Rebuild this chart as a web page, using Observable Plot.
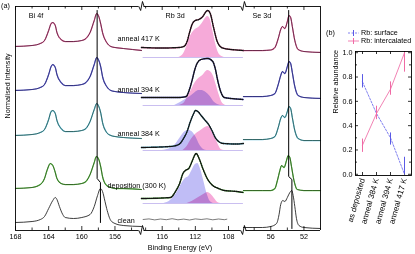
<!DOCTYPE html>
<html><head><meta charset="utf-8">
<script src="https://cdn.jsdelivr.net/npm/d3@7"></script>
<script src="https://cdn.jsdelivr.net/npm/@observablehq/plot@0.6"></script>
<style>
html,body{margin:0;padding:0;background:#fff;}
#wrap{position:relative;width:415px;height:254px;font-family:"Liberation Sans",Arial,Helvetica,sans-serif;font-size:7.2px;color:#000;overflow:hidden;background:#fff}
#wrap svg{position:absolute;top:0;overflow:visible}
.lbl{position:absolute;white-space:nowrap;font-size:7.2px;line-height:1}
</style></head><body><div id="wrap"></div>
<script>
// ---------------- panel (a) data ----------------
const spectra = ["clean", "deposition (300 K)", "anneal 384 K", "anneal 394 K", "anneal 417 K"];
const lineColors = ["#1a1a1a", "#2d561f", "#2c5954", "#2a2a72", "#5a1c3c"];
const dataColors = ["#666666", "#52c43c", "#4fb8d6", "#5252cc", "#de5a92"];

const sections = ["Bi 4f", "Rb 3d", "Se 3d"];
const sectionStart = [168, 118.5, 59.3];
const sectionEnd = [152.8, 106.2, 50.0];
const sectionTitleEV = [166.4, 115.6, 58.2];
const majorTicks = [[168, 164, 160, 156], [116, 112, 108], [56, 52]];
const minorTicks = [[166, 162, 158, 154], [118, 114, 110], [58, 54]];

// Bi 4f (eV, intensity above background)
const biOffsets = [4, 41, 92, 137, 180];
const biClean = [[168,4],[166,5],[165,7],[164.5,10],[164,18],[163.5,26],[163.2,29],[163,27],[162.7,20],[162.3,12],[162,9],[161,8],[160,9],[159,12],[158.5,20],[158.1,31],[157.75,38],[157.5,35],[157.2,25],[157,18],[156.5,6],[156,3],[155,1],[152.8,0]];
const biDeposition = [[168,1],[166,2],[165,5],[164.5,11],[164.2,19],[163.8,26],[163.5,24],[163.2,17],[163,11],[162.5,6],[162,5],[161,5],[160,6],[159.5,8],[159,15],[158.5,27],[158.25,33],[158,31],[157.7,22],[157.5,13],[157,4],[156.5,2],[156,1],[155,1],[152.8,0]];
const bi384 = [[168,3],[166,4],[165,6],[164.5,9],[164,19],[163.7,27],[163.5,28],[163.2,25],[163,18],[162.5,10],[162,7],[161,7],[160,8],[159.5,10],[159,17],[158.5,29],[158.2,35],[158,33],[157.7,25],[157.5,16],[157,6],[156.5,3],[156,2],[155,1],[152.8,0]];
const bi394 = [[168,3],[166,4],[165,6],[164.5,9],[164,19],[163.7,27],[163.5,29],[163.2,26],[163,19],[162.5,11],[162,8],[161,8],[160,9],[159.5,11],[159,17],[158.5,29],[158.2,36],[158,34],[157.7,26],[157.5,17],[157,7],[156.5,3],[156,2],[155,1],[152.8,0]];
const bi417 = [[168,4],[166,5],[165,7],[164.5,10],[164,20],[163.7,27],[163.5,28],[163.2,25],[163,18],[162.5,11],[162,9],[161,9],[160,10],[159.5,12],[159,18],[158.5,30],[158.2,37],[158,35],[157.7,26],[157.5,18],[157,8],[156.5,4],[156,3],[155,2],[152.8,0]];
const biMarker = [[158.15,220],[158.15,52],[157.75,48],[157.75,8]];

// Se 3d
const seOffsets = [2, 40, 90, 132, 178];
const seClean = [[59.3,1],[57,1],[56,2],[55.3,5],[55.0,14],[54.8,24],[54.55,28],[54.3,27],[54.0,31],[53.7,36],[53.47,38],[53.3,33],[53.1,22],[52.9,10],[52.6,3],[52,1],[50,0]];
const seDeposition = [[59.3,0],[57,0],[56,0],[55.5,2],[55.2,10],[54.9,20],[54.7,25],[54.4,23],[54.1,30],[53.9,35],[53.7,33],[53.5,24],[53.2,10],[52.8,1],[52,0],[50,0]];
const se384 = [[59.3,1],[57,1],[56,2],[55.5,4],[55.1,13],[54.8,22],[54.6,25],[54.3,23],[54.0,29],[53.8,34],[53.6,32],[53.4,23],[53.1,10],[52.7,2],[52,0],[50,0]];
const se394 = [[59.3,2],[57,2],[56,3],[55.5,5],[55.1,14],[54.8,23],[54.6,27],[54.3,25],[54.0,32],[53.8,37],[53.6,35],[53.4,26],[53.1,12],[52.7,3],[52,1],[50,0]];
const se417 = [[59.3,2],[57,2],[56,2.5],[55.5,5],[55.1,14],[54.8,23],[54.6,26],[54.3,24],[54.0,31],[53.8,37],[53.6,35],[53.4,26],[53.1,12],[52.7,3],[52,1],[50,0]];
const seMarker = [[53.84,220],[53.84,54],[53.45,51],[53.45,2]];

// Rb 3d: fit envelope and components (surface / intercalated)
const rbOffsets = [11, 27, 80, 125, 173];
const rbClean = [[118.3,0],[117.6,0.6],[116.9,-0.4],[116.2,0.5],[115.5,-0.2],[114.8,0.8],[114.1,-0.3],[113.4,0.4],[112.7,-0.5],[112,0.6],[111.3,0],[110.6,0.7],[109.9,-0.3],[109.2,0.5],[108.5,-0.2],[108.2,0.3]];
const rbEnvelopeDeposition = [[118.5,5],[116,5.5],[115,6],[114.4,12],[113.9,20],[113.5,30],[113.2,33],[112.8,35],[112.4,42],[112.1,48],[111.9,50],[111.5,44],[111.1,35],[110.5,24],[109.9,18],[109.2,15],[108.5,13],[107,12],[106.2,11]];
const rbSurfaceDeposition = [[115.8,0],[115,3],[114.3,10],[113.7,19],[113.2,25],[112.8,27],[112.4,33],[112,39],[111.7,40],[111.4,35],[111,23],[110.6,10],[110.2,2],[109.8,0]];
const rbIntercalatedDeposition = [[113,0],[112.4,2],[111.8,5],[111.2,8],[110.8,10],[110.5,11],[110.1,9],[109.7,5],[109.3,1],[108.9,0]];
const rbEnvelope384 = [[118.5,3],[115,4],[114,6],[113.5,11],[113,19],[112.6,29],[112.2,37],[112,40],[111.7,39],[111.3,35],[110.8,30],[110.4,26],[110,20],[109.6,13],[109.2,9],[108.6,7],[107,6.5],[106.2,7]];
const rbSurface384 = [[116,0],[115,2],[114.4,6],[113.8,13],[113.2,19],[112.8,20],[112.3,18],[111.9,13],[111.5,6],[111,1],[110.6,0]];
const rbIntercalated384 = [[113.5,0],[113,4],[112.5,11],[112,16],[111.5,19],[111,22],[110.5,24],[110.1,22],[109.7,15],[109.3,7],[108.9,1],[108.5,0]];
const rbEnvelope394 = [[118.5,8],[114,8],[113.1,9],[112.8,14],[112.4,25],[112.1,35],[111.8,42],[111.3,46],[110.5,47],[109.9,44],[109.6,37],[109.3,25],[108.9,13],[108.5,8],[107,6.5],[106.2,6]];
const rbSurface394 = [[114.5,0],[113.8,3],[113.2,6],[112.6,9],[112,13],[111.6,15],[111.2,15],[110.7,13],[110.2,9],[109.8,4],[109.3,1],[108.8,0]];
const rbIntercalated394 = [[114,0],[113.4,2],[112.9,9],[112.5,15],[112,23],[111.6,27],[111.1,30],[110.7,34],[110.5,35],[110.2,34],[109.8,29],[109.5,21],[109.1,10],[108.7,2],[108.3,0]];
const rbEnvelope417 = [[118.5,10],[116,9.5],[114,10],[113.4,11],[113,16],[112.7,25],[112.4,33],[112,37],[111.6,38],[111.1,41],[110.7,46],[110.5,47],[110.2,44],[109.8,30],[109.4,17],[109,11],[108.5,9],[107,7.5],[106.2,7]];
const rbSurface417 = [];
const rbIntercalated417 = [[114,0],[113.4,4],[113,12],[112.6,21],[112,28],[111.6,30],[111.1,35],[110.7,40],[110.5,41],[110.2,38],[109.9,27],[109.5,12],[109.1,3],[108.5,0]];

const labelEV = [155.7, 156.9, 155.7, 155.7, 155.7];
const labelLevel = [10, 45, 97, 141, 192];

// ---------------- panel (b) data ----------------
const categories = ["as deposited", "anneal 384 K", "anneal 394 K", "anneal 417 K"];
const surfaceValue = [0.76, 0.50, 0.30, 0.00];
const surfaceLow = [0.71, 0.45, 0.24, 0.00];
const surfaceHigh = [0.82, 0.55, 0.34, 0.14];
const intercalatedValue = [0.24, 0.50, 0.70, 1.00];
const intercalatedLow = [0.18, 0.45, 0.65, 0.84];
const intercalatedHigh = [0.29, 0.56, 0.76, 1.00];
const legendNames = ["Rb: surface", "Rb: intercalated"];
const yTicksB = [0, 0.2, 0.4, 0.6, 0.8, 1.0];
const yMinorB = [0.1, 0.3, 0.5, 0.7, 0.9];

// ---------------- build panel (a) ----------------
const FONT = '"Liberation Sans", Arial, Helvetica, sans-serif';
const FS = 7.2;
const secW = sectionStart.map((s, i) => s - sectionEnd[i]);
const secOff = secW.map((_, i) => d3.sum(secW.slice(0, i)));
const total = d3.sum(secW);
const U = (sec, eV) => secOff[sec] + sectionStart[sec] - eV;
const rows = (arr, sec, off) => arr.map(([e, r]) => ({u: U(sec, e), v: off + r}));

const W_A = 325, H = 254, mT = 6, mB = 24, mL = 15, mR = 5;
const plotH = H - mT - mB;
const TOP = plotH; // intensity domain top
const curve = "monotone-x";

const biSets = [biClean, biDeposition, bi384, bi394, bi417];
const seSets = [seClean, seDeposition, se384, se394, se417];
const rbEnv = [rbClean, rbEnvelopeDeposition, rbEnvelope384, rbEnvelope394, rbEnvelope417];
const rbSurf = [[], rbSurfaceDeposition, rbSurface384, rbSurface394, rbSurface417];
const rbInt = [[], rbIntercalatedDeposition, rbIntercalated384, rbIntercalated394, rbIntercalated417];

const marks = [];
// Rb component fills and baselines
for (let k = 1; k < 5; k++) {
  const env = rbEnv[k];
  marks.push(Plot.ruleY([rbOffsets[k]], {y: d => d, x1: U(1, env[0][0] - 0.2), x2: U(1, env[env.length - 1][0]), stroke: "#c4b8ee", strokeWidth: 0.9}));
  if (rbSurf[k].length) marks.push(Plot.areaY(rows(rbSurf[k], 1, rbOffsets[k]), {x: "u", y1: rbOffsets[k], y2: "v", fill: "#c0bdf6", curve, mixBlendMode: "multiply"}));
  marks.push(Plot.areaY(rows(rbInt[k], 1, rbOffsets[k]), {x: "u", y1: rbOffsets[k], y2: "v", fill: "#f6aad9", curve, mixBlendMode: "multiply"}));
}
// spectra
for (let k = 0; k < 5; k++) {
  const bi = rows(biSets[k], 0, biOffsets[k]);
  const se = rows(seSets[k], 2, seOffsets[k]);
  const rb = rows(rbEnv[k], 1, rbOffsets[k]);
  if (k > 0) {
    marks.push(Plot.line(bi, {x: "u", y: "v", stroke: dataColors[k], strokeWidth: 1.25, strokeOpacity: 0.85, curve}));
    marks.push(Plot.line(se, {x: "u", y: "v", stroke: dataColors[k], strokeWidth: 1.25, strokeOpacity: 0.85, curve}));
    marks.push(Plot.line(rb, {x: "u", y: "v", stroke: dataColors[k], strokeWidth: 1.3, strokeOpacity: 0.85, curve}));
    marks.push(Plot.line(rb, {x: "u", y: "v", stroke: "#111", strokeWidth: 1.4, strokeDasharray: "0.9,1.1", curve}));
  } else {
    marks.push(Plot.line(rb, {x: "u", y: "v", stroke: "#444", strokeWidth: 0.7}));
  }
  marks.push(Plot.line(bi, {x: "u", y: "v", stroke: lineColors[k], strokeWidth: 0.85, curve}));
  marks.push(Plot.line(se, {x: "u", y: "v", stroke: lineColors[k], strokeWidth: 0.85, curve}));
}
// peak position markers
marks.push(Plot.line(biMarker.map(([e, v]) => ({u: U(0, e), v})), {x: "u", y: "v", stroke: "#000", strokeWidth: 1}));
marks.push(Plot.line(seMarker.map(([e, v]) => ({u: U(2, e), v})), {x: "u", y: "v", stroke: "#000", strokeWidth: 1}));

// frame with broken top/bottom axis
const gap = 0.32;
const segs = secW.map((w, i) => ({x1: secOff[i] + (i > 0 ? gap : 0), x2: secOff[i] + w - (i < 2 ? gap : 0)}));
marks.push(Plot.ruleX([0, total], {x: d => d, y1: 0, y2: TOP, stroke: "#000", strokeWidth: 0.9}));
for (const yv of [0, TOP]) {
  marks.push(Plot.ruleY(segs, {y: yv, x1: "x1", x2: "x2", stroke: "#000", strokeWidth: 0.9}));
}
const breaks = secOff.slice(1);
for (const b of breaks) {
  for (const yv of [0, TOP]) {
    const zz = [[b - gap, yv], [b - 0.1, yv - 4], [b + 0.12, yv + 5], [b + gap, yv]];
    marks.push(Plot.line(zz, {x: d => d[0], y: d => d[1], stroke: "#000", strokeWidth: 0.9}));
  }
}
const majU = majorTicks.flatMap((t, i) => t.map(e => U(i, e)));
const minU = minorTicks.flatMap((t, i) => t.map(e => U(i, e)));
const labelByU = new Map(majorTicks.flatMap((t, i) => t.map(e => [U(i, e), String(e)])));
marks.push(Plot.tickX(majU, {x: d => d, insetTop: plotH - 4, stroke: "#000", strokeWidth: 0.8}));
marks.push(Plot.tickX(majU, {x: d => d, insetBottom: plotH - 4, stroke: "#000", strokeWidth: 0.8}));
marks.push(Plot.tickX(minU, {x: d => d, insetTop: plotH - 2.5, stroke: "#000", strokeWidth: 0.8}));
marks.push(Plot.tickX(minU, {x: d => d, insetBottom: plotH - 2.5, stroke: "#000", strokeWidth: 0.8}));
marks.push(Plot.axisX(majU, {tickSize: 0, tickPadding: 3, tickFormat: d => labelByU.get(d), label: null, fontSize: FS}));

// labels
marks.push(Plot.text(sections.map((s, i) => ({s, u: U(i, sectionTitleEV[i])})), {x: "u", y: TOP - 9, text: "s", textAnchor: "start", fontSize: FS}));
marks.push(Plot.text(spectra.map((s, k) => ({s, u: U(0, labelEV[k]), v: labelLevel[k]})), {x: "u", y: "v", text: "s", textAnchor: "start", fontSize: FS}));
marks.push(Plot.text(["Normalised Intensity"], {frameAnchor: "left", rotate: -90, dx: -8, fontSize: FS}));
marks.push(Plot.text(["Binding Energy (eV)"], {frameAnchor: "bottom", dx: 12, dy: 19, fontSize: FS}));

const plotA = Plot.plot({
  width: W_A, height: H, marginTop: mT, marginBottom: mB, marginLeft: mL, marginRight: mR,
  x: {domain: [0, total]},
  y: {domain: [0, TOP], axis: null},
  style: {fontFamily: FONT, fontSize: FS + "px", background: "none", overflow: "visible"},
  marks
});
plotA.style.left = "0px";

// ---------------- build panel (b) ----------------
const bRows = categories.map((c, i) => ({c, s: surfaceValue[i], sLo: surfaceLow[i], sHi: surfaceHigh[i], p: intercalatedValue[i], pLo: intercalatedLow[i], pHi: intercalatedHigh[i]}));
const blue = "#8282f0", blueBar = "#5a5ae6", pink = "#f283b4", pinkBar = "#f06aa5";
const W_B = 95, mLB = 35, mRB = 4, mTB = 51, mBB = 79;
const fw = W_B - mLB - mRB, fh = H - mTB - mBB;
const plotB = Plot.plot({
  width: W_B, height: H, marginLeft: mLB, marginRight: mRB, marginTop: mTB, marginBottom: mBB,
  x: {type: "point", domain: categories, padding: 0.4},
  y: {domain: [-0.01, 1.01]},
  style: {fontFamily: FONT, fontSize: FS + "px", background: "none", overflow: "visible"},
  marks: [
    Plot.frame({stroke: "#000", strokeWidth: 0.9}),
    Plot.tickY(yTicksB, {y: d => d, insetRight: fw - 3, stroke: "#000", strokeWidth: 0.8}),
    Plot.tickY(yTicksB, {y: d => d, insetLeft: fw - 3, stroke: "#000", strokeWidth: 0.8}),
    Plot.tickY(yMinorB, {y: d => d, insetRight: fw - 2, stroke: "#000", strokeWidth: 0.8}),
    Plot.tickY(yMinorB, {y: d => d, insetLeft: fw - 2, stroke: "#000", strokeWidth: 0.8}),
    Plot.tickX(categories, {x: d => d, insetTop: fh - 3, stroke: "#000", strokeWidth: 0.8}),
    Plot.tickX(categories, {x: d => d, insetBottom: fh - 3, stroke: "#000", strokeWidth: 0.8}),
    Plot.line(bRows, {x: "c", y: "s", stroke: blue, strokeWidth: 1, strokeDasharray: "2,1.5"}),
    Plot.line(bRows, {x: "c", y: "p", stroke: pink, strokeWidth: 1}),
    Plot.ruleX(bRows, {x: "c", y1: "sLo", y2: "sHi", stroke: blueBar, strokeWidth: 1}),
    Plot.ruleX(bRows, {x: "c", y1: "pLo", y2: "pHi", stroke: pinkBar, strokeWidth: 1}),
    Plot.axisY(yTicksB, {tickSize: 0, tickPadding: 3, tickFormat: d => d.toFixed(1), label: null, fontSize: FS}),
    Plot.axisX(categories, {tickSize: 0, tickPadding: 3, tickRotate: -74, label: null, fontSize: 8}),
    Plot.text(["Relative abundance"], {frameAnchor: "left", rotate: -90, dx: -20, fontSize: FS})
  ]
});
plotB.style.left = "320px";

const wrap = document.getElementById("wrap");
wrap.appendChild(plotA);
wrap.appendChild(plotB);

// panel labels and legend (HTML)
function addLabel(text, left, top) {
  const d = document.createElement("div");
  d.className = "lbl"; d.textContent = text;
  d.style.left = left + "px"; d.style.top = top + "px";
  wrap.appendChild(d);
}
addLabel("(a)", 1, 2);
addLabel("(b)", 326, 29);
const legStroke = [blue, pink], legBar = [blueBar, pinkBar], legDash = ["2,1.5", null];
legendNames.forEach((name, i) => {
  const y = 29 + i * 8;
  const svg = d3.create("svg").attr("width", 13).attr("height", 8).style("left", "347px").style("top", y + "px");
  svg.append("line").attr("x1", 1).attr("x2", 12).attr("y1", 4).attr("y2", 4).attr("stroke", legStroke[i]).attr("stroke-width", 1).attr("stroke-dasharray", legDash[i]);
  svg.append("line").attr("x1", 6.5).attr("x2", 6.5).attr("y1", 1).attr("y2", 7).attr("stroke", legBar[i]).attr("stroke-width", 1);
  wrap.appendChild(svg.node());
  addLabel(name, 361, y);
});
</script></body></html>
